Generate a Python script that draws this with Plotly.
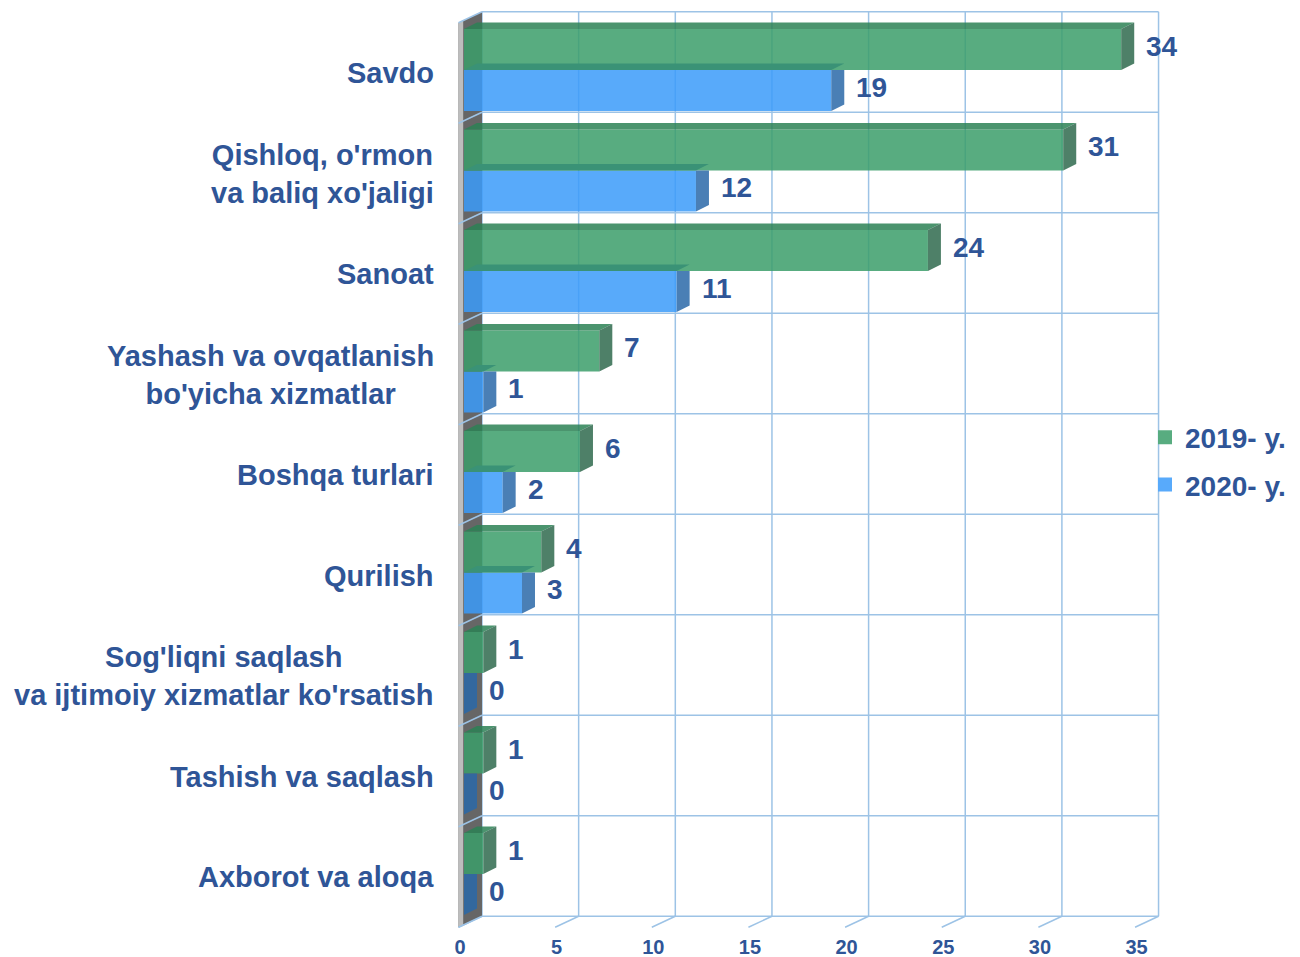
import plotly.graph_objects as go

# ---------------- data ----------------
categories = [
    "Savdo",
    "Qishloq, o'rmon<br>va baliq xo'jaligi",
    "Sanoat",
    "Yashash va ovqatlanish<br>bo'yicha xizmatlar",
    "Boshqa turlari",
    "Qurilish",
    "Sog'liqni saqlash<br>va ijtimoiy xizmatlar ko'rsatish",
    "Tashish va saqlash",
    "Axborot va aloqa",
]
series_names = ["2019- y.", "2020- y."]
values_2019 = [34, 31, 24, 7, 6, 4, 1, 1, 1]
values_2020 = [19, 12, 11, 1, 2, 3, 0, 0, 0]
x_ticks = [0, 5, 10, 15, 20, 25, 30, 35]

# ---------------- style / geometry (screen pixels) ----------------
OFF = 8                      # page body margin
W, H = 1300 - OFF, 957 - OFF
PLOT_L, PLOT_R, PLOT_T, PLOT_B = 440, 1200, 10, 930
X0PIX, PX = 464, 19.33       # pixel of value 0 (bar front plane), px per unit
Y0PIX, PY = 70, 100.5        # pixel of first category centre, px per category
BAR_W = 41 / PY
DX, DY = 13 / PX, -6.5 / PY  # bar depth
BX, BY = 18 / PX, -8 / PY    # back wall offset
FX, FY = -5.5 / PX, 3 / PY   # front edge offset

TEXT = "#2F5597"
GRID = "#9DC3E6"
FONT = "Liberation Sans, Arial, sans-serif"

G_FRONT, G_TOP, G_SIDE = "rgba(59,157,106,0.85)", "rgba(44,129,85,0.85)", "rgba(47,106,78,0.85)"
B_FRONT, B_SIDE = "rgba(59,155,249,0.85)", "rgba(42,105,168,0.85)"
B_TOP_SEEN = "rgb(58,146,118)"   # blue top face as seen through the green bar
G_LEGEND, B_LEGEND = "#58AC80", "#58AAFB"

n = len(categories)
ypos = list(range(n))

xr = [(PLOT_L - X0PIX) / PX, (PLOT_R - X0PIX) / PX]
yr = [(PLOT_B - Y0PIX) / PY, (PLOT_T - Y0PIX) / PY]

fig = go.Figure()


def poly_trace(xs, ys, color):
    return go.Scatter(x=xs, y=ys, mode="lines", fill="toself", fillcolor=color,
                      line=dict(width=0), hoverinfo="skip", showlegend=False)


# front faces (bars)
fig.add_trace(go.Bar(x=values_2020, y=ypos, orientation="h", width=BAR_W, offset=0,
                     marker=dict(color=B_FRONT, line=dict(width=0)), name=series_names[1],
                     showlegend=False, hoverinfo="skip"))
fig.add_trace(go.Bar(x=values_2019, y=ypos, orientation="h", width=BAR_W, offset=-BAR_W,
                     marker=dict(color=G_FRONT, line=dict(width=0)), name=series_names[0],
                     showlegend=False, hoverinfo="skip"))

# depth faces
btx, bty, bsx, bsy = [], [], [], []
gtx, gty, gsx, gsy = [], [], [], []
for i, (vg, vb) in enumerate(zip(values_2019, values_2020)):
    y0, y1 = i, i + BAR_W
    btx += [0, vb, vb + DX, DX, 0, None]
    bty += [y0, y0, y0 + DY, y0 + DY, y0, None]
    bsx += [vb, vb, vb + DX, vb + DX, vb, None]
    bsy += [y0, y1, y1 + DY, y0, y0, None]
    y0, y1 = i - BAR_W, i
    gtx += [0, vg, vg + DX, DX, 0, None]
    gty += [y0, y0, y0 + DY, y0 + DY, y0, None]
    gsx += [vg, vg, vg + DX, vg + DX, vg, None]
    gsy += [y0, y1, y1 + DY, y0 + DY, y0, None]

fig.add_trace(poly_trace(btx, bty, B_TOP_SEEN))
fig.add_trace(poly_trace(bsx, bsy, B_SIDE))
fig.add_trace(poly_trace(gtx, gty, G_TOP))
fig.add_trace(poly_trace(gsx, gsy, G_SIDE))

# legend entries
for name, col in ((series_names[0], G_LEGEND), (series_names[1], B_LEGEND)):
    fig.add_trace(go.Scatter(x=[None], y=[None], mode="markers", name=name, legendgroup=name,
                             marker=dict(symbol="square", size=14, color=col)))

shapes = []
xmax = max(x_ticks)
for k in range(n + 1):
    yk = k - 0.5 + BY
    shapes.append(dict(type="line", x0=BX, x1=xmax + BX, y0=yk, y1=yk,
                       line=dict(color=GRID, width=1.5), layer="below"))
for t in x_ticks:
    shapes.append(dict(type="line", x0=t + BX, x1=t + BX, y0=-0.5 + BY, y1=n - 0.5 + BY,
                       line=dict(color=GRID, width=1.5), layer="below"))
    shapes.append(dict(type="line", x0=t + BX, x1=t + FX, y0=n - 0.5 + BY, y1=n - 0.5 + FY,
                       line=dict(color=GRID, width=1.5), layer="below"))

# left wall
top_b, bot_b = -0.5 + BY, n - 0.5 + BY
top_f, bot_f = -0.5 + FY, n - 0.5 + FY
shapes.append(dict(type="path",
                   path=f"M {BX} {top_b} L {BX} {bot_b} L {FX} {bot_f} L {FX} {top_f} Z",
                   fillcolor="#666666", line=dict(width=0), layer="below"))
f = 0.2
sx1 = FX + f * (BX - FX)
st1, sb1 = top_f + f * (top_b - top_f), bot_f + f * (bot_b - bot_f)
shapes.append(dict(type="path",
                   path=f"M {sx1} {st1} L {sx1} {sb1} L {FX} {bot_f} L {FX} {top_f} Z",
                   fillcolor="#bdbdbd", line=dict(width=0), layer="below"))
for k in range(n + 1):
    shapes.append(dict(type="line", x0=BX, x1=FX, y0=k - 0.5 + BY, y1=k - 0.5 + FY,
                       line=dict(color=GRID, width=1.5), layer="below"))

annotations = []
for i, c in enumerate(categories):
    annotations.append(dict(x=0, y=i + 3 / PY, xref="x", yref="y", text=c, showarrow=False,
                            xanchor="right", yanchor="middle", align="center", xshift=-28,
                            font=dict(family=FONT, size=29, color=TEXT, weight="bold")))
for vals, off in ((values_2019, -BAR_W), (values_2020, 0)):
    for i, v in enumerate(vals):
        annotations.append(dict(x=v + DX, y=i + off + BAR_W / 2 + DY / 2, xref="x", yref="y",
                                text=str(v), showarrow=False, xanchor="left", yanchor="middle",
                                xshift=10,
                                font=dict(family=FONT, size=28, color=TEXT, weight="bold")))

pw = PLOT_R - PLOT_L
ph = PLOT_B - PLOT_T
fig.update_layout(
    width=W, height=H,
    margin=dict(l=PLOT_L - OFF, r=W - (PLOT_R - OFF), t=PLOT_T - OFF, b=H - (PLOT_B - OFF),
                pad=0, autoexpand=False),
    paper_bgcolor="white", plot_bgcolor="white",
    barmode="overlay",
    showlegend=True,
    legend=dict(x=(1145 - PLOT_L) / pw, y=(PLOT_B - 461) / ph,
                xanchor="left", yanchor="middle", itemsizing="trace",
                traceorder="grouped", tracegroupgap=8,
                bgcolor="rgba(0,0,0,0)",
                font=dict(family=FONT, size=28, color=TEXT, weight="bold")),
    xaxis=dict(range=xr, tickvals=x_ticks, ticktext=[str(t) for t in x_ticks],
               showgrid=False, zeroline=False, showline=False, ticks="", automargin=False,
               ticklabelshift=-4, ticklabelstandoff=3,
               tickfont=dict(family=FONT, size=20, color=TEXT, weight="bold"), fixedrange=True),
    yaxis=dict(range=yr, showticklabels=False, showgrid=False, zeroline=False,
               showline=False, ticks="", fixedrange=True, automargin=False),
    shapes=shapes,
    annotations=annotations,
)

fig.write_html("out.html")
